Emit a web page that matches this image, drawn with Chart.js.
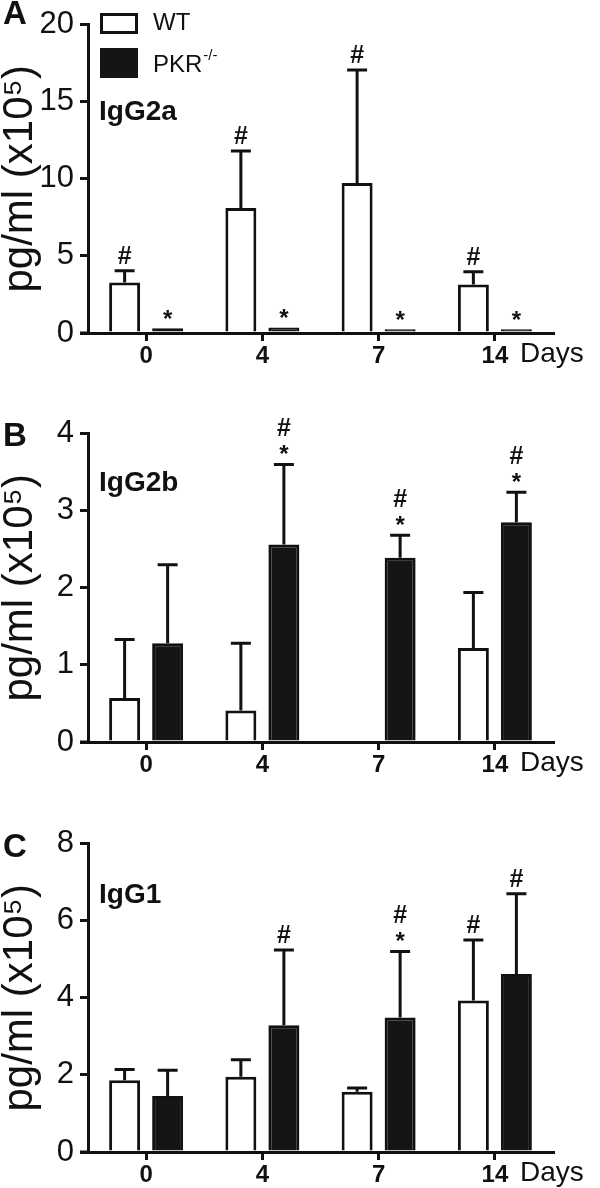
<!doctype html>
<html lang="en">
  <head>
    <meta charset="UTF-8" />
    <title>IgG subclasses WT vs PKR-/-</title>
    <script src="https://cdn.jsdelivr.net/npm/chart.js"></script>
    <style>
      body {
        margin: 0;
        padding: 0;
        background: #fff;
        width: 600px;
        height: 1188px;
        position: relative;
        overflow: hidden;
      }
      canvas {
        position: absolute;
        left: 0;
      }
    </style>
  </head>
  <body>
    <canvas id="chartA" width="600" height="369" style="top: 0px"></canvas>
    <canvas id="chartB" width="600" height="369" style="top: 409px"></canvas>
    <canvas id="chartC" width="600" height="369" style="top: 819px"></canvas>

    <script>
      const days = ["0", "4", "7", "14"];

      // IgG2a
      const g2aWT = [3.27, 8.1, 9.72, 3.14];
      const g2aWTerr = [4.04, 11.8, 17.05, 3.97];
      const g2aKO = [0.3, 0.35, 0.25, 0.25];
      const g2aKOerr = [null, null, null, null];
      const g2aWTmarks = ["#", "#", "#", "#"];
      const g2aKOmarks = ["*", "*", "*", "*"];

      // IgG2b
      const g2bWT = [0.57, 0.41, 0.02, 1.22];
      const g2bWTerr = [1.33, 1.28, null, 1.94];
      const g2bKO = [1.28, 2.56, 2.39, 2.85];
      const g2bKOerr = [2.3, 3.6, 2.68, 3.24];
      const g2bWTmarks = ["", "", "", ""];
      const g2bKOmarks = ["", "#*", "#*", "#*"];

      // IgG1
      const g1WT = [1.86, 1.95, 1.56, 3.93];
      const g1WTerr = [2.14, 2.39, 1.66, 5.5];
      const g1KO = [1.45, 3.29, 3.49, 4.62];
      const g1KOerr = [2.12, 5.24, 5.2, 6.7];
      const g1WTmarks = ["", "", "", "#"];
      const g1KOmarks = ["", "#", "#*", "#"];

      const FONT = "'Liberation Sans', Arial, sans-serif";

      // error bars + significance marks drawn from the bar elements
      const extrasPlugin = {
        id: "extras",
        afterDatasetsDraw(chart) {
          const ctx = chart.ctx;
          const y = chart.scales.y;
          ctx.save();
          ctx.strokeStyle = "#111";
          ctx.fillStyle = "#111";
          ctx.lineWidth = 3;
          chart.data.datasets.forEach((ds, di) => {
            const meta = chart.getDatasetMeta(di);
            meta.data.forEach((bar, i) => {
              const x = bar.x;
              let top = y.getPixelForValue(ds.data[i]);
              const hi = ds.errHi[i];
              if (hi != null) {
                const yc = y.getPixelForValue(hi);
                ctx.beginPath();
                ctx.moveTo(x, top);
                ctx.lineTo(x, yc);
                ctx.moveTo(x - 10, yc);
                ctx.lineTo(x + 10, yc);
                ctx.stroke();
                top = yc - 1;
              }
              const m = ds.marks[i];
              ctx.textAlign = "center";
              ctx.textBaseline = "middle";
              let yy = top;
              if (m.includes("*")) {
                ctx.font = "bold 24px " + FONT;
                ctx.fillText("*", x, yy - 8);
                yy -= 21;
              }
              if (m.includes("#")) {
                ctx.font = "bold 25px " + FONT;
                ctx.fillText("#", x, yy - 13);
              }
            });
          });
          ctx.restore();
        },
        afterDraw(chart) {
          const ctx = chart.ctx;
          const o = chart.options.plugins.extras;
          const area = chart.chartArea;
          const y0 = chart.scales.y.getPixelForValue(0);
          ctx.save();
          // x axis runs a little past the y axis
          ctx.strokeStyle = "#111";
          ctx.lineWidth = 3;
          ctx.beginPath();
          ctx.moveTo(area.left - 8, y0);
          ctx.lineTo(area.left, y0);
          ctx.stroke();

          ctx.fillStyle = "#111";
          ctx.textBaseline = "middle";
          ctx.textAlign = "left";
          ctx.font = "28px " + FONT;
          ctx.fillText("Days", 520, y0 + 21);

          ctx.font = "bold 33px " + FONT;
          ctx.fillText(o.letter, 3, o.letterY);

          ctx.font = "bold 28px " + FONT;
          ctx.fillText(o.isotype, 99, o.isotypeY);

          if (o.legend) {
            const ds = chart.data.datasets;
            ctx.lineWidth = 3;
            ctx.strokeStyle = "#111";
            ctx.fillStyle = "#fff";
            ctx.fillRect(101.5, 14.5, 35, 18);
            ctx.strokeRect(101.5, 14.5, 35, 18);
            ctx.fillStyle = "#151515";
            ctx.fillRect(100, 48, 38, 30);
            ctx.fillStyle = "#111";
            ctx.font = "24px " + FONT;
            ctx.fillText(ds[0].label, 153, 23);
            ctx.fillText(ds[1].label, 153, 65);
            const w = ctx.measureText(ds[1].label).width;
            ctx.font = "15px " + FONT;
            ctx.fillText("-/-", 153 + w + 1, 56);
          }
          ctx.restore();
        },
      };

      function makePanel(id, wt, wtErr, wtMarks, ko, koErr, koMarks, max, step, opts) {
        return new Chart(document.getElementById(id), {
          type: "bar",
          data: {
            labels: days,
            datasets: [
              {
                label: "WT",
                data: wt,
                errHi: wtErr,
                marks: wtMarks,
                backgroundColor: "#fff",
                borderColor: "#111",
                borderWidth: 3,
              },
              {
                label: "PKR",
                data: ko,
                errHi: koErr,
                marks: koMarks,
                backgroundColor: "#151515",
                borderColor: "#111",
                borderWidth: 3,
              },
            ],
          },
          options: {
            responsive: false,
            animation: false,
            categoryPercentage: 0.74,
            barPercentage: 0.72,
            layout: { padding: { top: 23, right: 47, left: 0, bottom: 0 } },
            plugins: {
              legend: { display: false },
              tooltip: { enabled: false },
              extras: opts,
            },
            scales: {
              x: {
                grid: {
                  drawOnChartArea: false,
                  offset: false,
                  tickLength: 8,
                  lineWidth: 3,
                  color: "#111",
                },
                border: { display: true, width: 3, color: "#111" },
                ticks: {
                  color: "#111",
                  padding: 1,
                  font: { family: FONT, size: 24, weight: "bold" },
                },
                afterFit(scale) {
                  scale.height = 36;
                },
              },
              y: {
                min: 0,
                max: max,
                ticks: {
                  stepSize: step,
                  color: "#111",
                  padding: 6,
                  font: { family: FONT, size: 31 },
                },
                grid: {
                  drawOnChartArea: false,
                  tickLength: 8,
                  lineWidth: 3,
                  color: "#111",
                },
                border: { display: true, width: 3, color: "#111" },
                title: {
                  display: true,
                  text: "pg/ml (x10⁵)",
                  color: "#111",
                  padding: 0,
                  font: { family: FONT, size: 42, lineHeight: 0.95 },
                },
                afterFit(scale) {
                  scale.width = 88;
                },
              },
            },
          },
          plugins: [extrasPlugin],
        });
      }

      makePanel("chartA", g2aWT, g2aWTerr, g2aWTmarks, g2aKO, g2aKOerr, g2aKOmarks, 20, 5, {
        letter: "A", letterY: 15, isotype: "IgG2a", isotypeY: 112, legend: true,
      });
      makePanel("chartB", g2bWT, g2bWTerr, g2bWTmarks, g2bKO, g2bKOerr, g2bKOmarks, 4, 1, {
        letter: "B", letterY: 28, isotype: "IgG2b", isotypeY: 74, legend: false,
      });
      makePanel("chartC", g1WT, g1WTerr, g1WTmarks, g1KO, g1KOerr, g1KOmarks, 8, 2, {
        letter: "C", letterY: 29, isotype: "IgG1", isotypeY: 76, legend: false,
      });
    </script>
  </body>
</html>
